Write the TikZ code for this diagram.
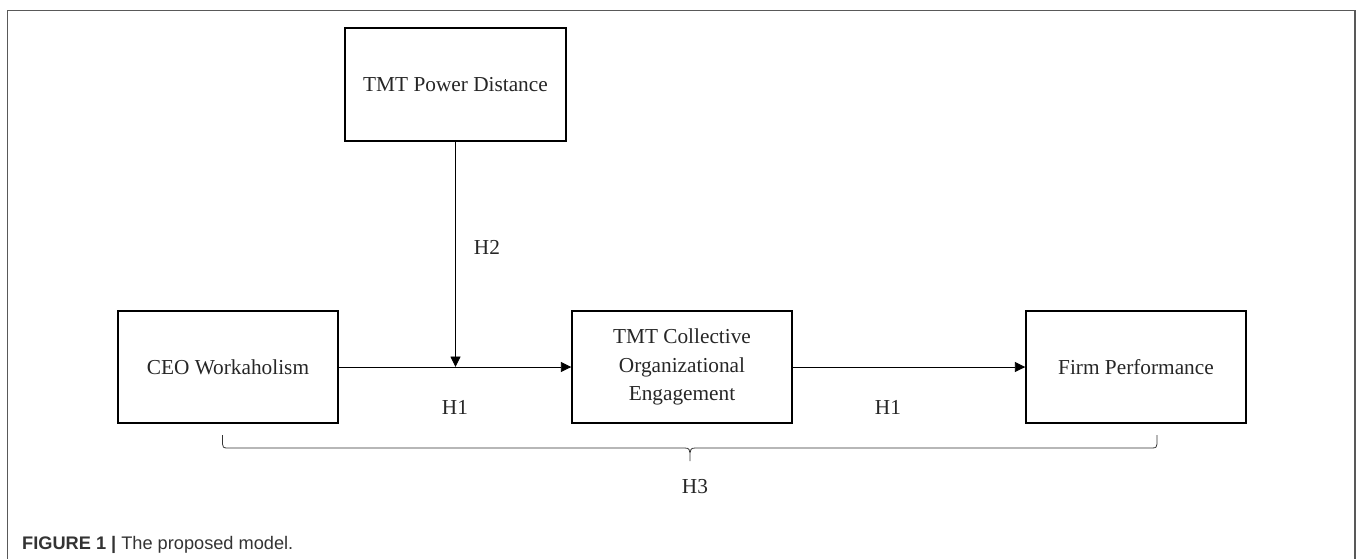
\documentclass[tikz,border=0pt]{standalone}
\usepackage{fontspec}
\setmainfont{Liberation Serif}
\newfontfamily\capfont{Liberation Sans}
\usetikzlibrary{arrows.meta}
\begin{document}
\begin{tikzpicture}[x=1pt,y=-1pt,
  boxnode/.style={draw=black,line width=1.4pt,minimum width=220pt,minimum height=112pt,align=center,inner sep=0pt,
    font=\fontsize{21.3}{28.7}\selectfont,text=black!85},
  lbl/.style={font=\fontsize{21.3}{25}\selectfont,text=black!85,inner sep=0pt},
  conn/.style={line width=0.9pt,-{Triangle[length=10.5pt,width=10pt]}},
  framel/.style={draw=black!65,line width=1.4pt}]
\useasboundingbox (0,0) rectangle (1357,558);
\draw[framel] (7.5,560) -- (7.5,10.5) -- (1355,10.5) -- (1355,560);
\node[boxnode,minimum width=221pt,minimum height=113pt] (pd) at (455.5,84.5) {TMT Power Distance};
\node[boxnode] (ceo) at (228,367) {CEO Workaholism};
\node[boxnode] (mid) at (682,367) {TMT Collective\\Organizational\\Engagement};
\node[boxnode] (firm) at (1136,367) {Firm Performance};
\draw[conn] (ceo.east) -- (mid.west);
\coordinate (jn) at (pd.south |- ceo.east);
\draw[conn] (pd.south) -- (jn);
\draw[conn] (mid.east) -- (firm.west);
\node[lbl] (h2) at (487,247) {H2};
\node[lbl] (h1a) at (455,407) {H1};
\node[lbl] (h1b) at (888,407) {H1};
\node[lbl] (h3) at (695,487) {H3};
\draw[line width=0.8pt,black!80] (222.5,435) -- (222.5,444) .. controls (222.5,447) and (223.5,448) .. (227,448)
  -- (685,448) .. controls (689,448) and (690,450) .. (690,453) -- (690,461)
  (690,453) .. controls (690,450) and (691,448) .. (695,448)
  -- (1152,448) .. controls (1156,448) and (1157,447) .. (1157,444) -- (1157,435);
\node[anchor=base west,inner sep=0pt,font=\capfont\fontsize{18.2}{20}\selectfont,text=black!80] (cap) at (22,549)
  {\textbf{FIGURE 1 |} The proposed model.};
\end{tikzpicture}
\end{document}
